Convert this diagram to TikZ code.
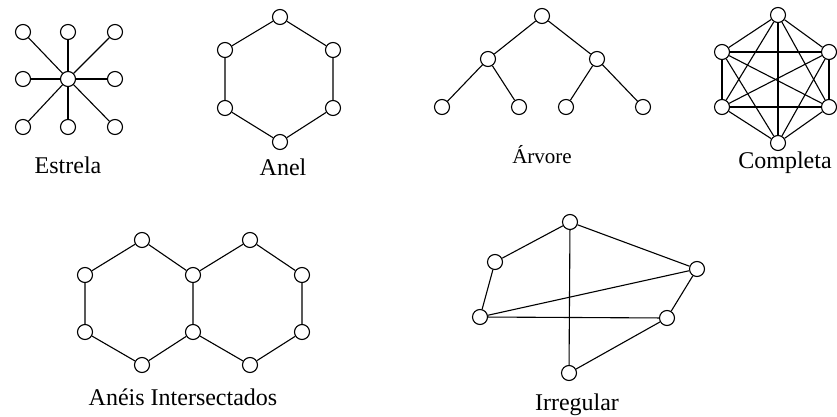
\documentclass[tikz,border=0pt]{standalone}
\usepackage{fontspec}
\setmainfont{Liberation Serif}
\usepackage{tikz}
\tikzset{
    vertex/.style = {circle, draw=black, fill=white, line width = 1.1pt,
                     minimum size = 15pt, inner sep = 0pt},
    link/.style   = {draw=black, line width = 1.1pt},
    caption/.style = {font=\fontsize{24}{28}\selectfont, inner sep=0pt, anchor=base}
}

\begin{document}
\begin{tikzpicture}[x=1pt, y=-1pt]

    \useasboundingbox (0,0) rectangle (837,417);

    % Estrela: one hub with eight spokes
    \node[vertex] (Star_center) at (68,79) {};
    \foreach \px/\py [count=\k] in {23/32, 68/32, 115/32, 23/79, 115/79, 23/127, 68/127, 115/127} {
        \node[vertex] (Star_\k) at (\px,\py) {};
        \draw[link] (Star_center) -- (Star_\k);
    }
    \node[caption] (Star_label) at (68,173) {Estrela};

    % Anel: six nodes in a closed ring
    \node[vertex] (Ring_1) at (280,17) {};
    \node[vertex] (Ring_2) at (333,50) {};
    \node[vertex] (Ring_3) at (333,108) {};
    \node[vertex] (Ring_4) at (280,142) {};
    \node[vertex] (Ring_5) at (225,108) {};
    \node[vertex] (Ring_6) at (225,50) {};
    \draw[link] (Ring_1) -- (Ring_2) -- (Ring_3) -- (Ring_4)
                -- (Ring_5) -- (Ring_6) -- (Ring_1);
    \node[caption] (Ring_label) at (283,175) {Anel};

    % Arvore: binary tree, two levels
    \node[vertex] (Tree_root) at (542,16) {};
    \node[vertex] (Tree_left) at (488,59) {};
    \node[vertex] (Tree_right) at (597,59) {};
    \node[vertex] (Tree_leaf_1) at (442,107) {};
    \node[vertex] (Tree_leaf_2) at (519,107) {};
    \node[vertex] (Tree_leaf_3) at (566,107) {};
    \node[vertex] (Tree_leaf_4) at (643,107) {};
    \draw[link] (Tree_root) -- (Tree_left);
    \draw[link] (Tree_root) -- (Tree_right);
    \draw[link] (Tree_left) -- (Tree_leaf_1);
    \draw[link] (Tree_left) -- (Tree_leaf_2);
    \draw[link] (Tree_right) -- (Tree_leaf_3);
    \draw[link] (Tree_right) -- (Tree_leaf_4);
    \node[caption, font=\fontsize{21}{25}\selectfont] (Tree_label) at (542,163) {Árvore};

    % Completa: every node linked to every other
    \node[vertex] (Full_1) at (778,15) {};
    \node[vertex] (Full_2) at (829,52) {};
    \node[vertex] (Full_3) at (829,107) {};
    \node[vertex] (Full_4) at (778,143) {};
    \node[vertex] (Full_5) at (722,107) {};
    \node[vertex] (Full_6) at (722,52) {};
    \foreach \i in {1,...,5} {
        \pgfmathtruncatemacro{\nexti}{\i+1}
        \foreach \j in {\nexti,...,6}
            \draw[link] (Full_\i) -- (Full_\j);
    }
    \node[caption] (Full_label) at (785,168) {Completa};

    % Aneis Intersectados: two rings sharing one side
    \node[vertex] (Twin_top_left) at (142,240) {};
    \node[vertex] (Twin_upper_left) at (85,275) {};
    \node[vertex] (Twin_lower_left) at (85,332) {};
    \node[vertex] (Twin_bottom_left) at (142,365) {};
    \node[vertex] (Twin_shared_upper) at (193,275) {};
    \node[vertex] (Twin_shared_lower) at (193,332) {};
    \node[vertex] (Twin_top_right) at (250,240) {};
    \node[vertex] (Twin_upper_right) at (302,275) {};
    \node[vertex] (Twin_lower_right) at (302,332) {};
    \node[vertex] (Twin_bottom_right) at (250,365) {};
    \draw[link] (Twin_top_left) -- (Twin_upper_left) -- (Twin_lower_left)
                -- (Twin_bottom_left) -- (Twin_shared_lower) -- (Twin_shared_upper)
                -- (Twin_top_left);
    \draw[link] (Twin_shared_upper) -- (Twin_top_right) -- (Twin_upper_right)
                -- (Twin_lower_right) -- (Twin_bottom_right) -- (Twin_shared_lower);
    \node[caption] (Twin_label) at (183,405) {Anéis Intersectados};

    % Irregular: arbitrary links
    \node[vertex] (Odd_top) at (570,222) {};
    \node[vertex] (Odd_upper_left) at (495,262) {};
    \node[vertex] (Odd_right) at (697,269) {};
    \node[vertex] (Odd_left) at (480,317) {};
    \node[vertex] (Odd_lower_right) at (667,318) {};
    \node[vertex] (Odd_bottom) at (569,373) {};
    \draw[link] (Odd_top) -- (Odd_upper_left) -- (Odd_left);
    \draw[link] (Odd_top) -- (Odd_right) -- (Odd_lower_right) -- (Odd_bottom);
    \draw[link] (Odd_top) -- (Odd_bottom);
    \draw[link] (Odd_left) -- (Odd_right);
    \draw[link] (Odd_left) -- (Odd_lower_right);
    \node[caption] (Odd_label) at (577,410) {Irregular};

\end{tikzpicture}
\end{document}
